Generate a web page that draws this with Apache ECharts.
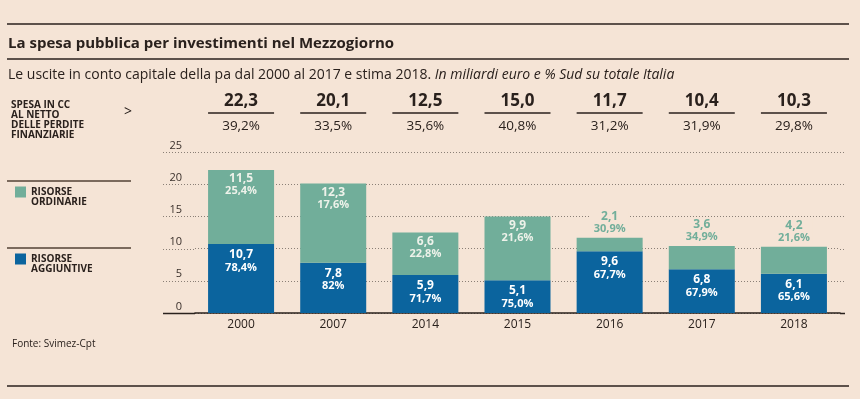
<!DOCTYPE html>
<html lang="it">
<head>
<meta charset="UTF-8">
<title>La spesa pubblica per investimenti nel Mezzogiorno</title>
<style>
    html, body { margin: 0; padding: 0; background: #f5e4d6; }
    #chart { width: 860px; height: 399px; }
</style>
<script src="https://cdn.jsdelivr.net/npm/echarts@6/dist/echarts.min.js"></script>
</head>
<body>
<div id="chart"></div>
<script>
// dati (miliardi di euro)
var anni = ['2000', '2007', '2014', '2015', '2016', '2017', '2018'];
var aggiuntive = [10.7, 7.8, 5.9, 5.1, 9.6, 6.8, 6.1];
var ordinarie = [11.5, 12.3, 6.6, 9.9, 2.1, 3.6, 4.2];
var pctAggiuntive = ['78,4%', '82%', '71,7%', '75,0%', '67,7%', '67,9%', '65,6%'];
var pctOrdinarie = ['25,4%', '17,6%', '22,8%', '21,6%', '30,9%', '34,9%', '21,6%'];
var totali = ['22,3', '20,1', '12,5', '15,0', '11,7', '10,4', '10,3'];
var pctTotali = ['39,2%', '33,5%', '35,6%', '40,8%', '31,2%', '31,9%', '29,8%'];
var yTicks = [0, 5, 10, 15, 20, 25];

var BG = '#f5e4d6';
var BLU = '#0b649e';
var VERDE = '#71ae9a';
var TESTO = '#2a211d';
var FONT = 'Open Sans';

function num(v) { return String(v).replace('.', ','); }

var chart = echarts.init(document.getElementById('chart'));

// elementi fissi: righe e note a sinistra
var fissi = [
    { type: 'line', shape: { x1: 7, y1: 24, x2: 849, y2: 24 }, style: { stroke: TESTO, lineWidth: 1.5 } },
    { type: 'line', shape: { x1: 7, y1: 59, x2: 849, y2: 59 }, style: { stroke: TESTO, lineWidth: 1.5 } },
    { type: 'line', shape: { x1: 7, y1: 386, x2: 849, y2: 386 }, style: { stroke: TESTO, lineWidth: 1.5 } },
    { type: 'line', shape: { x1: 7, y1: 181, x2: 131, y2: 181 }, style: { stroke: '#7b6a5d', lineWidth: 2 } },
    { type: 'line', shape: { x1: 7, y1: 248, x2: 131, y2: 248 }, style: { stroke: '#7b6a5d', lineWidth: 2 } },
    {
        type: 'text', left: 11, top: 100,
        style: {
            text: 'SPESA IN CC\nAL NETTO\nDELLE PERDITE\nFINANZIARIE',
            fill: TESTO, fontFamily: FONT, fontSize: 10, fontWeight: 'bold', lineHeight: 10
        }
    },
    { type: 'text', left: 124, top: 105, style: { text: '>', fill: TESTO, fontFamily: FONT, fontSize: 14 } }
];

var option = {
    backgroundColor: BG,
    animation: false,
    textStyle: { fontFamily: FONT },
    title: [
        {
            text: 'La spesa pubblica per investimenti nel Mezzogiorno',
            left: 3, top: 31,
            textStyle: { fontSize: 15, fontWeight: 'bold', color: TESTO, fontFamily: FONT }
        },
        {
            text: 'Le uscite in conto capitale della pa dal 2000 al 2017 e stima 2018. {i|In miliardi euro e % Sud su totale Italia}',
            left: 3, top: 63,
            textStyle: {
                fontSize: 14, fontWeight: 'normal', color: TESTO, fontFamily: FONT,
                rich: { i: { fontSize: 14, fontStyle: 'italic', color: TESTO, fontFamily: FONT } }
            }
        },
        {
            text: 'Fonte: Svimez-Cpt',
            left: 7, top: 334,
            textStyle: { fontSize: 10, fontWeight: 'normal', color: TESTO, fontFamily: FONT }
        }
    ],
    legend: {
        orient: 'vertical', left: 10, top: 172,
        itemWidth: 11, itemHeight: 11, itemGap: 37,
        icon: 'rect', selectedMode: false,
        data: ['RISORSE\nORDINARIE', 'RISORSE\nAGGIUNTIVE'],
        // riga vuota in testa: la prima riga resta allineata al quadratino
        formatter: function (name) { return '\n' + name; },
        textStyle: {
            fontFamily: FONT, fontSize: 10, fontWeight: 'bold', color: TESTO, lineHeight: 10
        }
    },
    grid: { left: 195, right: 20, top: 152, bottom: 86 },
    xAxis: [
        {
            type: 'category', data: anni, position: 'bottom',
            axisLine: { lineStyle: { color: TESTO, width: 1.5 } },
            axisTick: { show: false },
            axisLabel: { color: TESTO, fontSize: 12, margin: 6, fontFamily: FONT }
        },
        {
            type: 'category', data: anni, position: 'top',
            axisLine: { show: false }, axisTick: { show: false },
            axisLabel: {
                margin: 15,
                formatter: function (val, idx) {
                    return '{t|' + totali[idx] + '}\n{l| }\n{p|' + pctTotali[idx] + '}';
                },
                rich: {
                    t: { fontSize: 17, fontWeight: 'bold', color: TESTO, lineHeight: 20, fontFamily: FONT },
                    l: { width: 66, height: 1.5, backgroundColor: TESTO, lineHeight: 4, fontSize: 1 },
                    p: { fontSize: 13.5, color: TESTO, lineHeight: 22, fontFamily: FONT }
                }
            }
        }
    ],
    yAxis: {
        type: 'value',
        min: yTicks[0], max: yTicks[yTicks.length - 1], interval: yTicks[1] - yTicks[0],
        axisLine: { show: false }, axisTick: { show: false },
        axisLabel: {
            color: '#3a302b', fontSize: 11, margin: 13, fontFamily: FONT,
            verticalAlign: 'bottom', padding: [0, 0, 1, 0]
        },
        splitLine: { lineStyle: { color: '#8a7f76', type: [1, 2], width: 1 } }
    },
    series: [
        {
            name: 'RISORSE\nAGGIUNTIVE', type: 'bar', stack: 'tot', barWidth: 66,
            itemStyle: { color: BLU },
            label: {
                show: true, position: 'insideTop', distance: 4,
                rich: {
                    v: { fontSize: 12, fontWeight: 'bold', color: '#ffffff', lineHeight: 13, fontFamily: FONT },
                    p: { fontSize: 11, fontWeight: 'bold', color: '#ffffff', lineHeight: 13, fontFamily: FONT }
                }
            },
            data: aggiuntive.map(function (v, i) {
                return { value: v, label: { formatter: '{v|' + num(v) + '}\n{p|' + pctAggiuntive[i] + '}' } };
            })
        },
        {
            name: 'RISORSE\nORDINARIE', type: 'bar', stack: 'tot', barWidth: 66,
            itemStyle: { color: VERDE },
            label: {
                show: true, position: 'insideTop', distance: 3,
                rich: {
                    v: { fontSize: 12, fontWeight: 'bold', color: '#eef2ea', lineHeight: 12, fontFamily: FONT },
                    p: { fontSize: 11, fontWeight: 'bold', color: '#eef2ea', lineHeight: 12, fontFamily: FONT },
                    vo: { fontSize: 12, fontWeight: 'bold', color: VERDE, lineHeight: 12, fontFamily: FONT },
                    po: { fontSize: 11, fontWeight: 'bold', color: VERDE, lineHeight: 12, fontFamily: FONT }
                }
            },
            data: ordinarie.map(function (v, i) {
                // barre verdi basse: etichetta sopra la barra
                if (v < 5) {
                    return {
                        value: v,
                        label: {
                            position: 'top', distance: 3, backgroundColor: BG, padding: [0, 3],
                            formatter: '{vo|' + num(v) + '}\n{po|' + pctOrdinarie[i] + '}'
                        }
                    };
                }
                return { value: v, label: { formatter: '{v|' + num(v) + '}\n{p|' + pctOrdinarie[i] + '}' } };
            })
        }
    ],
    graphic: fissi
};

chart.setOption(option);

// prolungo griglia e asse oltre l'area delle categorie
var extra = [];
var sx = 163, dx = 845;
var gl = 195, gr = 840;
yTicks.forEach(function (t) {
    var y = Math.round(chart.convertToPixel({ yAxisIndex: 0 }, t)) + 0.5;
    var st = t === 0
        ? { stroke: TESTO, lineWidth: 1.5 }
        : { stroke: '#8a7f76', lineWidth: 1, lineDash: [1, 2] };
    extra.push({ type: 'line', z: -1, shape: { x1: sx, y1: y, x2: gl, y2: y }, style: st });
    extra.push({ type: 'line', z: -1, shape: { x1: gr, y1: y, x2: dx, y2: y }, style: st });
});
chart.setOption({ graphic: fissi.concat(extra) });
</script>
</body>
</html>
